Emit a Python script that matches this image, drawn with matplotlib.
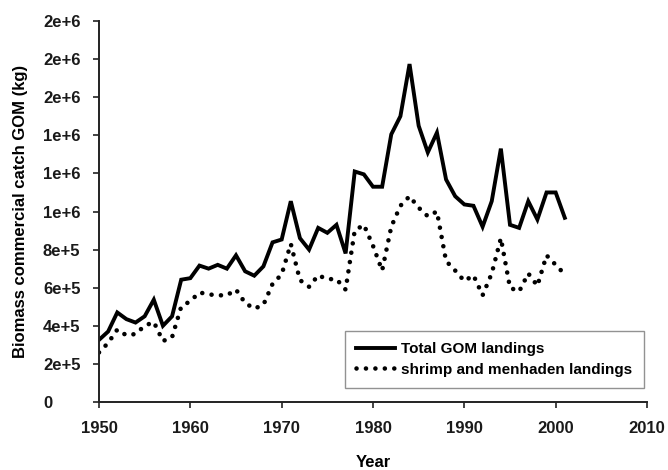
import matplotlib
matplotlib.use("Agg")
import matplotlib.pyplot as plt

years = list(range(1950, 2002))
total_gom = [0.326, 0.37, 0.47, 0.435, 0.417, 0.45, 0.537, 0.40, 0.45, 0.642,
             0.65, 0.716, 0.70, 0.72, 0.70, 0.77, 0.686, 0.663, 0.712, 0.838,
             0.853, 1.054, 0.86, 0.80, 0.914, 0.888, 0.93, 0.78, 1.21, 1.195,
             1.13, 1.13, 1.405, 1.50, 1.774, 1.45, 1.31, 1.414, 1.168, 1.08,
             1.037, 1.03, 0.92, 1.054, 1.33, 0.93, 0.914, 1.054, 0.958, 1.10,
             1.10, 0.967]
shrimp_menhaden = [0.26, 0.31, 0.38, 0.35, 0.357, 0.40, 0.42, 0.32, 0.34, 0.50,
                   0.53, 0.575, 0.565, 0.56, 0.56, 0.59, 0.52, 0.49, 0.51, 0.62,
                   0.67, 0.83, 0.64, 0.605, 0.665, 0.645, 0.645, 0.59, 0.90, 0.93,
                   0.82, 0.69, 0.92, 1.03, 1.08, 1.02, 0.975, 1.0, 0.74, 0.69,
                   0.635, 0.665, 0.56, 0.675, 0.86, 0.60, 0.58, 0.675, 0.61, 0.77,
                   0.72, 0.67]
scale = 1e6
xticks = [1950, 1960, 1970, 1980, 1990, 2000, 2010]
yticks = [0, 2e5, 4e5, 6e5, 8e5, 1e6, 1.2e6, 1.4e6, 1.6e6, 1.8e6, 2e6]
ytick_labels = ["0", "2e+5", "4e+5", "6e+5", "8e+5", "1e+6", "1e+6", "1e+6",
                "2e+6", "2e+6", "2e+6"]

plt.rcParams['font.family'] = ['Liberation Sans', 'DejaVu Sans']
plt.rcParams['font.weight'] = 'bold'

fig = plt.figure(figsize=(6.68, 4.70), dpi=100)
ax = fig.add_axes([99/668, 1 - 402/470, (647-99)/668, (402-21)/470])

ax.plot(years, [v*scale for v in total_gom], color='black', lw=2.8,
        solid_joinstyle='miter', label='Total GOM landings')
ax.plot(years, [v*scale for v in shrimp_menhaden], color='black', lw=3.3,
        linestyle=(0, (0.01, 2.05)), dash_capstyle='round',
        label='shrimp and menhaden landings')

ax.set_xlim(1950, 2010)
ax.set_ylim(0, 2e6)
ax.set_xticks(xticks)
ax.set_xticklabels([str(t) for t in xticks])
ax.set_yticks(yticks)
ax.set_yticklabels(ytick_labels)
ax.spines['top'].set_visible(False)
ax.spines['right'].set_visible(False)
for s in ['left', 'bottom']:
    ax.spines[s].set_linewidth(1.4)
    ax.spines[s].set_color('#222222')
ax.tick_params(axis='both', direction='out', length=4.0, width=1.2,
               labelsize=12, colors='#222222', labelcolor='#1a1a1a')
ax.tick_params(axis='x', pad=10)
ax.tick_params(axis='y', pad=(99 - 43) * 0.72 - 4.0)
for lab in ax.get_yticklabels():
    lab.set_horizontalalignment('left')

ax.set_xlabel('Year', fontsize=12, fontweight='bold')
ax.xaxis.set_label_coords(0.5, (402 - 455) / 381)
ax.set_ylabel('Biomass commercial catch GOM (kg)', fontsize=12,
              fontweight='bold')
ax.yaxis.set_label_coords((28.5 - 99) / 548, 0.5)

leg = ax.legend(loc='lower right', bbox_to_anchor=((644 - 99) / 548, (402 - 388.3) / 381),
                borderaxespad=0, fontsize=11, frameon=True, fancybox=False,
                handlelength=2.5, borderpad=0.75, labelspacing=0.45,
                handletextpad=0.45)
leg.get_frame().set_edgecolor('#777777')
leg.get_frame().set_linewidth(1.0)

fig.savefig('out.png', dpi=100)
